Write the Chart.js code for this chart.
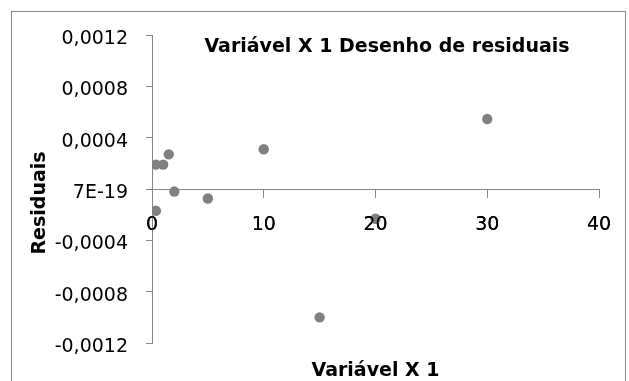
<!DOCTYPE html>
<html>
<head>
<meta charset="utf-8">
<script src="https://cdn.jsdelivr.net/npm/chart.js@4.4.1/dist/chart.umd.min.js"></script>
<style>
  html, body { margin: 0; padding: 0; background: #fff; }
</style>
</head>
<body>
<canvas id="Chart" width="629" height="381"></canvas>
<script>
// residual plot for the first explanatory variable
const xValues = [0.35, 1, 1.5, 2, 5, 10, 15, 20, 30, 0.35];
const residuals = [0.00019, 0.00019, 0.00027, -0.00002, -0.000074, 0.00031, -0.001, -0.000232, 0.000545, -0.00017];
const xTicks = [0, 10, 20, 30, 40];
const yTicks = [-0.0012, -0.0008, -0.0004, 0, 0.0004, 0.0008, 0.0012];
const yTickLabels = ['-0,0012', '-0,0008', '-0,0004', '7E-19', '0,0004', '0,0008', '0,0012'];
const chartTitle = 'Variável X 1 Desenho de residuais';
const xTitle = 'Variável X 1';
const yTitle = 'Residuais';

const axisGray = '#868686';
const fontName = '"DejaVu Sans", sans-serif';

const framePlugin = {
    id: 'frame',
    beforeDraw(chart) {
        const c = chart.ctx;
        c.save();
        c.strokeStyle = axisGray;
        c.lineWidth = 1;
        c.strokeRect(11.5, 11.5, 614, 400);
        c.restore();
    },
    afterDatasetsDraw(chart) {
        // tick numbers sit above the markers
        chart.scales.x.drawLabels(chart.chartArea);
    },
    afterDraw(chart) {
        const c = chart.ctx;
        const a = chart.chartArea;
        c.save();
        c.fillStyle = '#000';
        c.font = 'bold 19px ' + fontName;
        c.textAlign = 'center';
        c.textBaseline = 'middle';
        c.fillText(chartTitle, 387, 47);
        c.fillText(xTitle, (a.left + a.right) / 2, 371);
        c.translate(40, 203);
        c.rotate(-Math.PI / 2);
        c.fillText(yTitle, 0, 0);
        c.restore();
    }
};

const points = xValues.map((x, i) => ({ x: x, y: residuals[i] }));

new Chart(document.getElementById('Chart').getContext('2d'), {
    type: 'scatter',
    data: {
        datasets: [{
            data: points,
            backgroundColor: '#808080',
            borderWidth: 0,
            pointRadius: 5.2,
            pointHoverRadius: 5.2
        }]
    },
    options: {
        responsive: false,
        animation: false,
        layout: { padding: { top: 35, right: 30, bottom: 38, left: 0 } },
        plugins: {
            legend: { display: false },
            tooltip: { enabled: false }
        },
        scales: {
            x: {
                type: 'linear',
                position: { y: 0 },
                min: 0,
                max: 40,
                afterBuildTicks: s => { s.ticks = xTicks.map(v => ({ value: v })); },
                ticks: {
                    color: '#000',
                    padding: 17,
                    maxRotation: 0,
                    font: { family: fontName, size: 19 },
                    callback: v => String(v)
                },
                grid: { drawOnChartArea: false, tickLength: 8, color: axisGray },
                border: { color: axisGray, width: 1 }
            },
            y: {
                type: 'linear',
                min: -0.0012,
                max: 0.0012,
                afterBuildTicks: s => { s.ticks = yTicks.map(v => ({ value: v })); },
                afterFit: s => { s.width = 152; },
                ticks: {
                    color: '#000',
                    padding: 18,
                    labelOffset: 4,
                    font: { family: fontName, size: 19 },
                    callback: (v, i) => yTickLabels[i]
                },
                grid: { drawOnChartArea: false, tickLength: 6, color: axisGray },
                border: { color: axisGray, width: 1 }
            }
        }
    },
    plugins: [framePlugin]
});
</script>
</body>
</html>
